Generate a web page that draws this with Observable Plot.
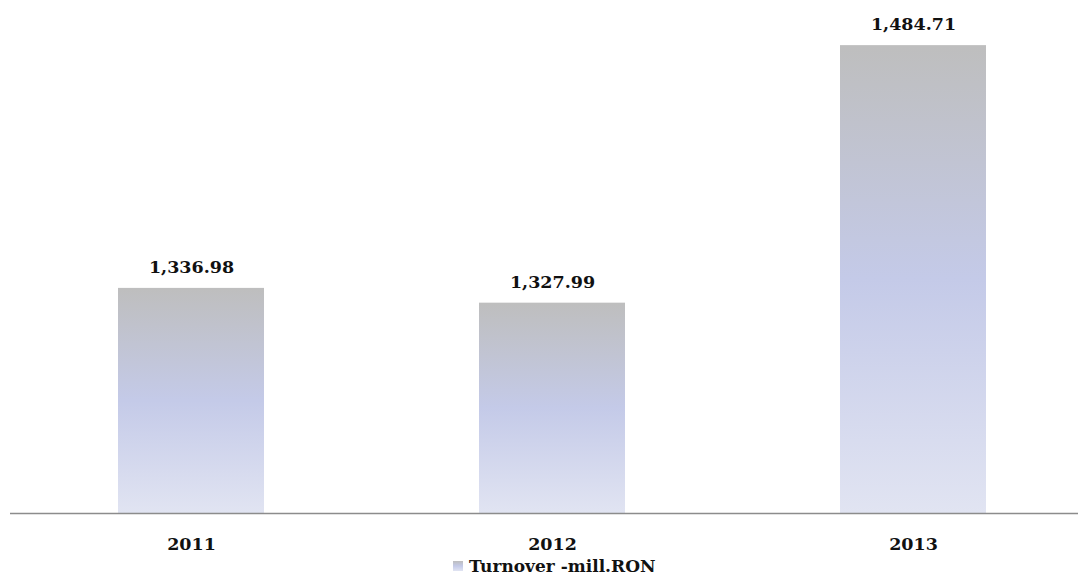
<!DOCTYPE html>
<html>
<head>
<meta charset="utf-8">
<script src="https://cdn.jsdelivr.net/npm/d3@7"></script>
<script src="https://cdn.jsdelivr.net/npm/@observablehq/plot@0.6"></script>
<style>
  body { margin: 0; background: #fff; font-family: "DejaVu Serif", serif; }
  #wrap { position: relative; width: 1078px; height: 577px; }
  #legend { position: absolute; left: 453px; top: 555px; display: flex; align-items: center; font-weight: bold; font-size: 17px; color: #111; line-height: 22px; }
  #legend .sw { width: 10px; height: 10px; margin-right: 6px; background: linear-gradient(#bebebe, #c4cae8, #e1e4f2); }
</style>
</head>
<body>
<div id="wrap"><div id="chart"></div><div id="legend"><span class="sw"></span><span>Turnover -mill.RON</span></div></div>
<script>
const years = ["2011", "2012", "2013"];
const turnover = [1336.98, 1327.99, 1484.71];
const seriesName = "Turnover -mill.RON";

const data = years.map((y, i) => ({year: y, value: turnover[i]}));
const fmt = d3.format(",.2f");

const chart = Plot.plot({
  width: 1078,
  height: 555,
  marginTop: 20,
  marginBottom: 42,
  marginLeft: 10,
  marginRight: 0,
  style: {fontFamily: "DejaVu Serif, serif", background: "transparent"},
  x: {domain: years, range: [10, 1093], paddingInner: 0.596, paddingOuter: 0.298, label: null},
  y: {domain: [1200, 1500], axis: null},
  marks: [
    Plot.barY(data, {x: "year", y1: 1200, y2: "value", fill: "url(#barGrad)"}),
    Plot.ruleY([1200], {stroke: "#8c8c8c", strokeWidth: 1.3}),
    Plot.text(data, {x: "year", y: "value", text: d => fmt(d.value), dy: -21, fontSize: 17.5, fontWeight: "bold", fill: "#111"}),
    Plot.axisX({tickSize: 0, tickPadding: 24, fontSize: 17.5, fontWeight: "bold", color: "#111", label: null})
  ]
});

const ns = "http://www.w3.org/2000/svg";
const defs = document.createElementNS(ns, "defs");
const grad = document.createElementNS(ns, "linearGradient");
grad.setAttribute("id", "barGrad");
grad.setAttribute("x1", "0"); grad.setAttribute("y1", "0");
grad.setAttribute("x2", "0"); grad.setAttribute("y2", "1");
[["0", "#bebebe"], ["0.5", "#c4cae8"], ["1", "#e1e4f2"]].forEach(([o, c]) => {
  const s = document.createElementNS(ns, "stop");
  s.setAttribute("offset", o); s.setAttribute("stop-color", c);
  grad.appendChild(s);
});
defs.appendChild(grad);
chart.insertBefore(defs, chart.firstChild);
document.getElementById("chart").appendChild(chart);
</script>
</body>
</html>
